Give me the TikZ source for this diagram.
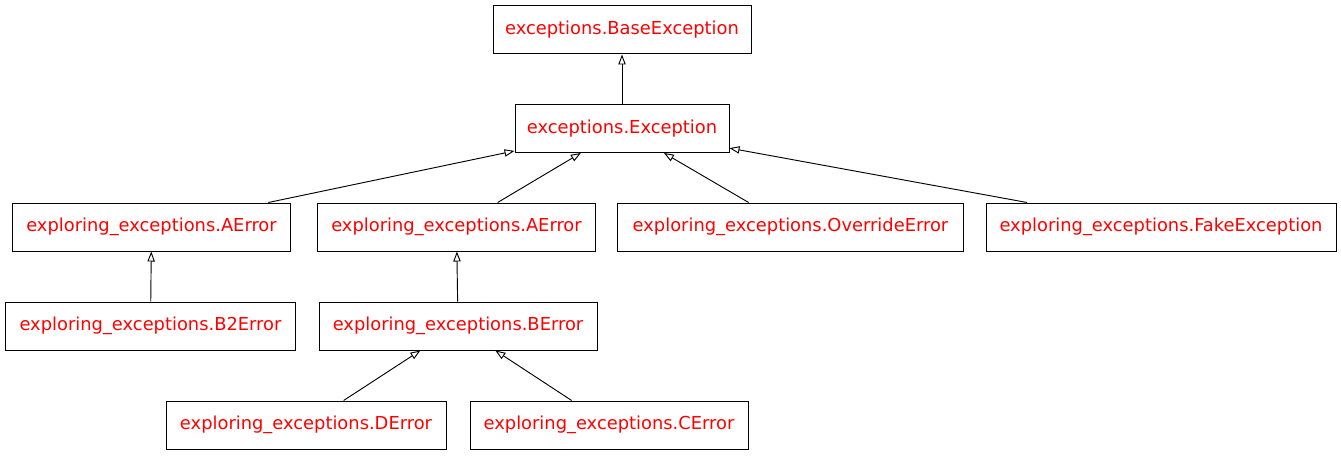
\documentclass[tikz,border=0pt]{standalone}
\usepackage{fontspec}
\setmainfont{DejaVu Sans}
\usetikzlibrary{arrows.meta}
\tikzset{cls/.style = {draw, rectangle, inner sep = 0, minimum height = 36pt, text = red, line width = 0.75pt, font = \fontsize{13.4}{15}\selectfont},
         inh/.style = {-{Triangle[open, length = 7.5pt, width = 5.5pt]}, line width = 0.7pt}}

\begin{document}
\begin{tikzpicture}[x = 0.75pt, y = -0.75pt]
    \useasboundingbox (0,0) rectangle (1341,456);
    \node[cls, minimum width = 193.5pt] (base) at (622,30) {exceptions.BaseException};
    \node[cls, minimum width = 160.5pt] (exc) at (622,128.5) {exceptions.Exception};
    \node[cls, minimum width = 209pt] (aerr1) at (151.5,227) {exploring\_exceptions.AError};
    \node[cls, minimum width = 209pt] (aerr2) at (456.5,227) {exploring\_exceptions.AError};
    \node[cls, minimum width = 259pt] (over) at (790.5,227) {exploring\_exceptions.OverrideError};
    \node[cls, minimum width = 262.5pt] (fake) at (1161,227) {exploring\_exceptions.FakeException};
    \node[cls, minimum width = 218pt] (b2err) at (150.5,326) {exploring\_exceptions.B2Error};
    \node[cls, minimum width = 208.5pt] (berr) at (458,326) {exploring\_exceptions.BError};
    \node[cls, minimum width = 210pt] (derr) at (306,425) {exploring\_exceptions.DError};
    \node[cls, minimum width = 208.5pt] (cerr) at (609,425) {exploring\_exceptions.CError};
    % inheritance arrows point to the parent class
    \foreach \c/\p in {exc/base, aerr1/exc, aerr2/exc, over/exc, fake/exc, b2err/aerr1, berr/aerr2, derr/berr, cerr/berr} {
        \draw[inh] (\c) -- (\p);
    }
\end{tikzpicture}
\end{document}
